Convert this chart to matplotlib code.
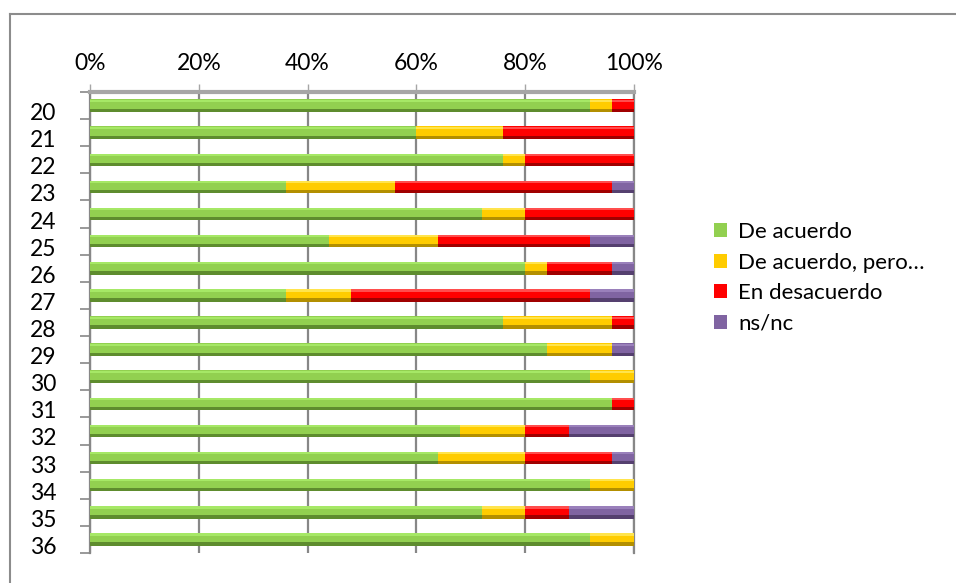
import numpy as np
import matplotlib
matplotlib.use("Agg")
import matplotlib.pyplot as plt
from matplotlib.patches import Patch
from matplotlib.lines import Line2D
from matplotlib.transforms import ScaledTranslation
from matplotlib.ticker import PercentFormatter, FixedLocator

plt.rcParams['font.family'] = ['Lato', 'DejaVu Sans']

# data (percent of answers per question)
questions = ['20', '21', '22', '23', '24', '25', '26', '27', '28',
             '29', '30', '31', '32', '33', '34', '35', '36']
de_acuerdo = [92, 60, 76, 36, 72, 44, 80, 36, 76, 84, 92, 96, 68, 64, 92, 72, 92]
de_acuerdo_pero = [4, 16, 4, 20, 8, 20, 4, 12, 20, 12, 8, 0, 12, 16, 8, 8, 8]
en_desacuerdo = [4, 24, 20, 40, 20, 28, 12, 44, 4, 0, 0, 4, 8, 16, 0, 8, 0]
ns_nc = [0, 0, 0, 4, 0, 8, 4, 8, 0, 4, 0, 0, 12, 4, 0, 12, 0]

series = [
    ('De acuerdo', de_acuerdo, '#92D050', '#a6e866', '#5e8c2e'),
    ('De acuerdo, pero…', de_acuerdo_pero, '#FFCC00', '#ffe44d', '#b38f00'),
    ('En desacuerdo', en_desacuerdo, '#FF0000', '#ff4d4d', '#a00000'),
    ('ns/nc', ns_nc, '#8064A2', '#9a80bb', '#55406f'),
]

W, H = 956, 583
fig = plt.figure(figsize=(W / 100, H / 100), dpi=100)
ax = fig.add_axes([90 / W, 1 - 553 / H, (634 - 90) / W, (553 - 92) / H])

y = np.arange(len(questions))
left = np.zeros(len(questions))
handles = []
for name, vals, col, light, dark in series:
    vals = np.array(vals, dtype=float)
    ax.barh(y, vals, left=left, height=0.46, color=col, edgecolor='none', zorder=3)
    # fake 3d shading: light top edge, dark bottom strip
    ax.barh(y - 0.18, vals, left=left, height=0.08, color=light, edgecolor='none', zorder=4)
    ax.barh(y + 0.17, vals, left=left, height=0.12, color=dark, edgecolor='none', zorder=4)
    left += vals
    handles.append(Patch(facecolor=col, edgecolor='none', label=name))

ax.set_xlim(0, 100)
ax.set_ylim(len(questions) - 0.5, -0.5)

ax.xaxis.tick_top()
ax.set_xticks([0, 20, 40, 60, 80, 100])
ax.xaxis.set_major_formatter(PercentFormatter(decimals=0))
ax.tick_params(axis='x', length=6, width=1, color='#a6a6a6', pad=7,
               labelsize=16.5, labelcolor='black')
ax.grid(axis='x', color='#878787', linewidth=1.6, zorder=0)

ax.set_yticks(y)
ax.set_yticklabels(questions)
ax.yaxis.set_minor_locator(FixedLocator(np.arange(len(questions) + 1) - 0.5))
ax.tick_params(axis='y', which='major', length=0, pad=24, labelsize=16.5)
ax.tick_params(axis='y', which='minor', length=7, width=1.2, color='#878787')
offset = ScaledTranslation(0, -6 / 100, fig.dpi_scale_trans)
for lab in ax.get_yticklabels():
    lab.set_transform(lab.get_transform() + offset)

ax.spines['bottom'].set_visible(False)
ax.spines['top'].set_color('#a6a6a6')
ax.spines['top'].set_linewidth(3)
ax.spines['left'].set_color('#878787')
ax.spines['left'].set_linewidth(1.6)
ax.spines['right'].set_color('#878787')
ax.spines['right'].set_linewidth(1.6)

fig.legend(handles=handles, loc='upper left', bbox_to_anchor=(705 / W, 1 - 213 / H),
           frameon=False, fontsize=16, handlelength=0.6, handleheight=0.6,
           handletextpad=0.5, labelspacing=0.48, borderaxespad=0)

# outer chart border (only left and top edges visible)
fig.add_artist(Line2D([10 / W, 10 / W], [0, 1 - 14 / H], transform=fig.transFigure,
                      color='#8c8c8c', linewidth=1.5))
fig.add_artist(Line2D([10 / W, 1], [1 - 14 / H, 1 - 14 / H], transform=fig.transFigure,
                      color='#8c8c8c', linewidth=1.5))

fig.savefig('out.png', dpi=100)
